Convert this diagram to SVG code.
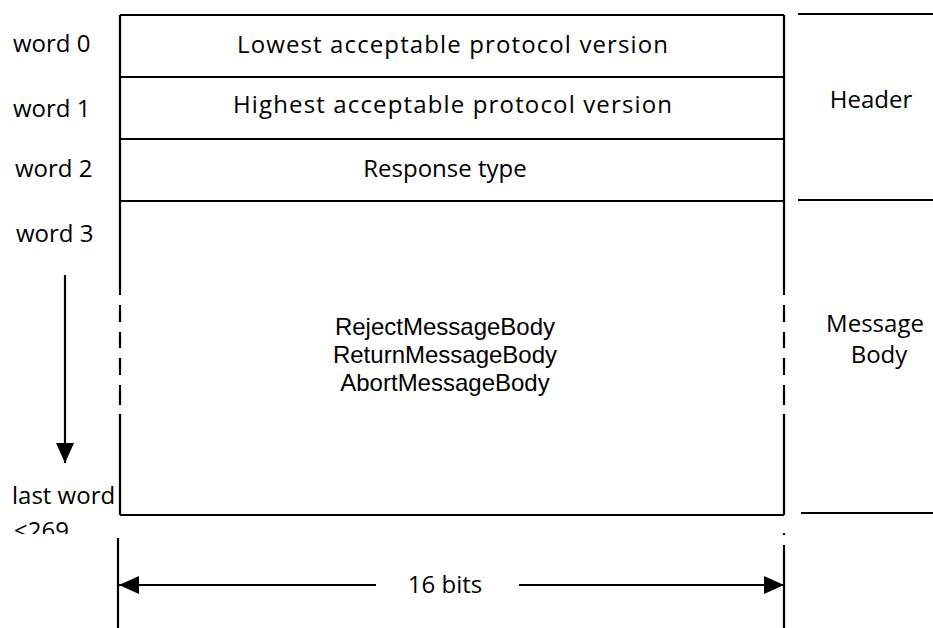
<svg xmlns="http://www.w3.org/2000/svg" width="933" height="628" viewBox="0 0 933 628">
  <style>
    .ln { stroke: #000; stroke-width: 2.2; fill: none; }
    .t { font-family: "Open Sans", "Liberation Sans", sans-serif; font-size: 24px; fill: #000; }
    .n { font-family: "Liberation Sans", "Open Sans", sans-serif; }
    .c { text-anchor: middle; }
  </style>
  <defs>
    <marker id="arrow" viewBox="0 0 20 18" refX="20" refY="9" markerWidth="20" markerHeight="18" markerUnits="userSpaceOnUse" orient="auto">
      <path d="M0,0 L20,9 L0,18 Z" fill="#000"/>
    </marker>
    <clipPath id="cut">
      <rect x="0" y="515" width="120" height="19"/>
    </clipPath>
  </defs>

  <rect width="933" height="628" fill="#fff"/>

  <!-- record layout: header rows -->
  <g id="word0">
    <path class="ln" d="M120,15 H784 M120,15 V77 M784,15 V77"/>
    <text class="t" x="237" y="53" textLength="431">Lowest acceptable protocol version</text>
  </g>
  <g id="word1">
    <path class="ln" d="M120,77 H784 M120,77 V139 M784,77 V139"/>
    <text class="t" x="233" y="113" textLength="439">Highest acceptable protocol version</text>
  </g>
  <g id="word2">
    <path class="ln" d="M120,139 H784 M120,139 V201 M784,139 V201"/>
    <text class="t c" x="445" y="177">Response type</text>
  </g>

  <!-- message body with broken side walls -->
  <g id="body">
    <path class="ln" d="M120,201 H784 M120,515 H784
      M120,201 V295 M120,305 V322 M120,332 V348 M120,358 V375 M120,385 V405 M120,414 V515
      M784,201 V295 M784,305 V322 M784,332 V348 M784,358 V375 M784,385 V405 M784,414 V515"/>
    <text class="t n c" x="445" y="335">RejectMessageBody</text>
    <text class="t n c" x="445" y="363">ReturnMessageBody</text>
    <text class="t n c" x="445" y="391">AbortMessageBody</text>
  </g>

  <!-- word labels -->
  <g id="labels">
    <text class="t" x="13" y="52">word 0</text>
    <text class="t" x="13" y="117">word 1</text>
    <text class="t" x="15" y="177">word 2</text>
    <text class="t" x="16" y="242">word 3</text>
    <text class="t" x="12" y="504">last word</text>
    <text class="t" x="14" y="539" clip-path="url(#cut)">≤269</text>
  </g>

  <!-- section brackets -->
  <g id="header">
    <path class="ln" d="M798,14 H933 M798,200 H933"/>
    <text class="t c" x="871" y="108">Header</text>
  </g>
  <g id="message-body">
    <path class="ln" d="M801,513 H933"/>
    <text class="t c" x="875" y="332">Message<tspan x="879" dy="31">Body</tspan></text>
  </g>

  <!-- connectors -->
  <g id="connectors">
    <line class="ln" x1="65" y1="275" x2="65" y2="463" marker-end="url(#arrow)"/>
    <path class="ln" d="M118,538 V628 M784,545 V628 M784,533 V535"/>
    <line class="ln" x1="376" y1="585" x2="119" y2="585" marker-end="url(#arrow)"/>
    <line class="ln" x1="519" y1="585" x2="784" y2="585" marker-end="url(#arrow)"/>
    <text class="t c" x="445" y="593">16 bits</text>
  </g>
</svg>
